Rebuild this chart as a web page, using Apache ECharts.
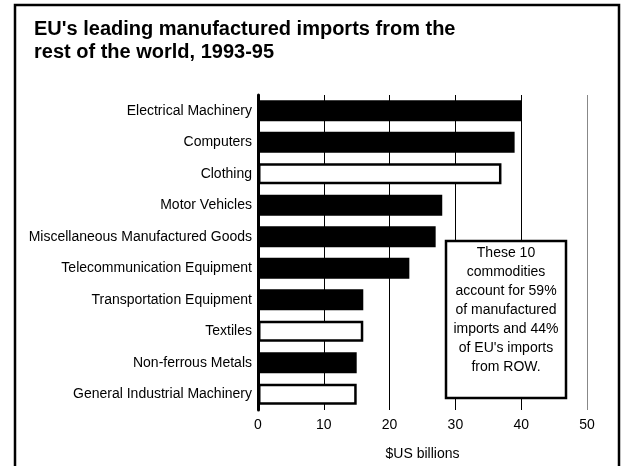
<!DOCTYPE html>
<html>
<head>
<meta charset="utf-8">
<script src="https://cdn.jsdelivr.net/npm/echarts@6/dist/echarts.min.js"></script>
<style>
html,body{margin:0;padding:0;background:#fff;}
#chart{width:623px;height:466px;}
</style>
</head>
<body>
<div id="chart"></div>
<script>
// ---- data ----
var categories = [
  'Electrical Machinery',
  'Computers',
  'Clothing',
  'Motor Vehicles',
  'Miscellaneous Manufactured Goods',
  'Telecommunication Equipment',
  'Transportation Equipment',
  'Textiles',
  'Non-ferrous Metals',
  'General Industrial Machinery'
];
var values = [40, 39, 37, 28, 27, 23, 16, 16, 15, 15];
var outlinedCategories = ['Clothing', 'Textiles', 'General Industrial Machinery'];
var xTicks = [0, 10, 20, 30, 40, 50];
var titleText = "EU's leading manufactured imports from the\nrest of the world, 1993-95";
var axisName = '$US billions';
var noteText = "These 10\ncommodities\naccount for 59%\nof manufactured\nimports and 44%\nof EU's imports\nfrom ROW.";

// ---- chart ----
var FONT = "'Liberation Sans', Arial, sans-serif";
var chart = echarts.init(document.getElementById('chart'), null, {renderer: 'canvas'});

var barData = categories.map(function (c, i) {
  var outlined = outlinedCategories.indexOf(c) >= 0;
  return {
    value: values[i],
    itemStyle: outlined
      ? {color: '#fff', borderColor: '#000', borderWidth: 2.5}
      : {color: '#000', borderWidth: 0}
  };
});

var option = {
  backgroundColor: '#fff',
  animation: false,
  title: {
    text: titleText,
    left: 29,
    top: 13,
    textStyle: {fontFamily: FONT, fontSize: 20, fontWeight: 'bold', color: '#000', lineHeight: 23}
  },
  grid: {left: 258, right: 36, top: 95, bottom: 55, containLabel: false},
  xAxis: {
    type: 'value',
    min: xTicks[0],
    max: xTicks[xTicks.length - 1],
    interval: xTicks[1] - xTicks[0],
    axisLine: {show: false},
    axisTick: {show: false},
    axisLabel: {fontFamily: FONT, fontSize: 14, color: '#000', margin: 8},
    splitLine: {show: true, lineStyle: {color: ['#000', '#000', '#000', '#000', '#000', '#888'], width: 1}},
    name: axisName,
    nameLocation: 'middle',
    nameGap: 37,
    nameTextStyle: {fontFamily: FONT, fontSize: 14, color: '#000'}
  },
  yAxis: {
    type: 'category',
    data: categories,
    inverse: true,
    axisLine: {show: true, lineStyle: {color: '#000', width: 3}},
    axisTick: {show: false},
    axisLabel: {fontFamily: FONT, fontSize: 14, color: '#000', margin: 6},
    z: 5
  },
  series: [{
    type: 'bar',
    data: barData,
    barWidth: 21,
    z: 3
  }],
  graphic: [
    {
      type: 'rect',
      z: 100,
      shape: {x: 15, y: 5, width: 604, height: 500},
      style: {fill: 'none', stroke: '#000', lineWidth: 2.5}
    },
    {
      type: 'rect',
      z: 100,
      shape: {x: 446, y: 241, width: 120, height: 157},
      style: {fill: '#fff', stroke: '#000', lineWidth: 2.5}
    },
    {
      type: 'text',
      z: 101,
      x: 506,
      y: 310,
      style: {
        text: noteText,
        fontFamily: FONT,
        fontSize: 14,
        lineHeight: 19,
        fill: '#000',
        align: 'center',
        verticalAlign: 'middle'
      }
    }
  ]
};
chart.setOption(option);
</script>
</body>
</html>
